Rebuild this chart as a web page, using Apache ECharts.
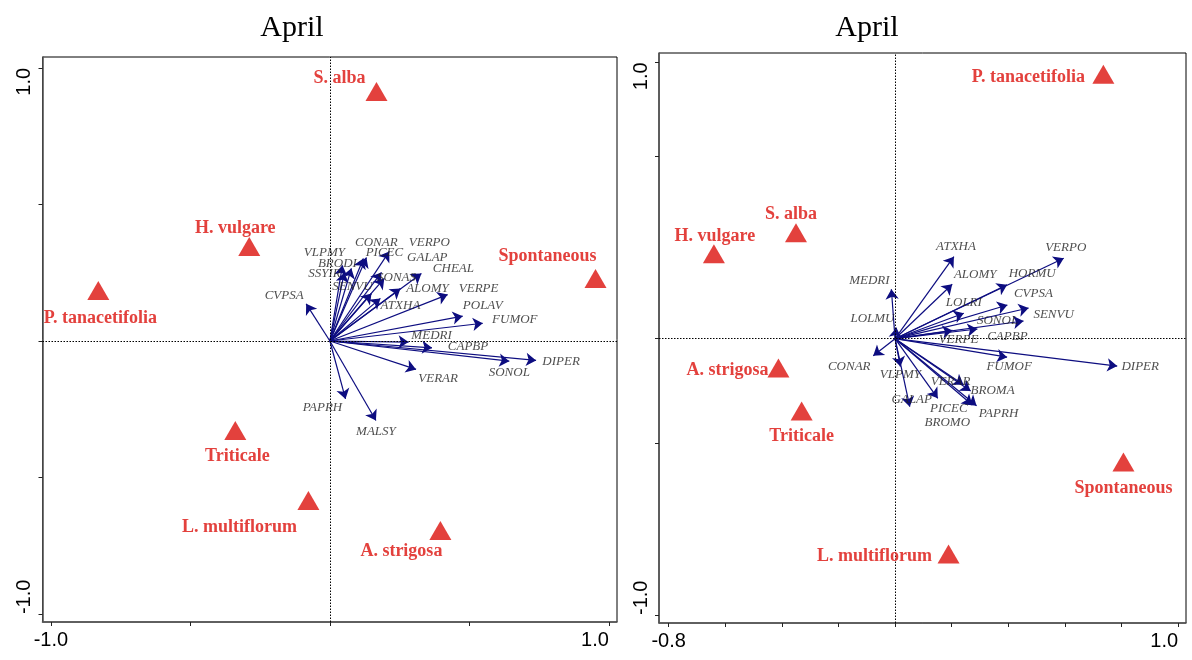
<!DOCTYPE html>
<html><head><meta charset="utf-8">
<script src="https://cdn.jsdelivr.net/npm/echarts@6/dist/echarts.min.js"></script>
<style>html,body{margin:0;padding:0;background:#fff}#c{width:1192px;height:660px}</style>
</head><body><div id="c"></div>
<script>
// ---------- DATA ----------
const panelTitles = ['April', 'April'];

// Left panel: treatments (triangles)
const leftTreatments = ['S. alba','H. vulgare','Spontaneous','P. tanacetifolia','Triticale','L. multiflorum','A. strigosa'];
const leftTreatX = [0.167,-0.289,0.952,-0.830,-0.339,-0.077,0.396];
const leftTreatY = [0.914,0.346,0.229,0.185,-0.328,-0.584,-0.694];
// Left panel: species (arrows)
const leftSpecies = ['CVPSA','PAPRH','MALSY','VERAR','SONOL','DIPER','CAPBP','MEDRI','FUMOF','POLAV','VERPE','ALOMY','ATXHA','SENVU','CHEAL','GALAP','SONAS','VERPO','PICEC','CONAR','BRODI','SSYIR','VLPMY'];
const leftSpecX = [-0.085,0.056,0.165,0.309,0.643,0.739,0.366,0.282,0.548,0.476,0.422,0.253,0.181,0.149,0.328,0.195,0.185,0.213,0.131,0.120,0.077,0.052,0.045];
const leftSpecY = [0.136,-0.212,-0.291,-0.104,-0.074,-0.071,-0.025,-0.004,0.065,0.091,0.170,0.192,0.156,0.174,0.247,0.229,0.251,0.328,0.306,0.302,0.266,0.251,0.277];
const leftXTicks = [-1.0,-0.5,0,0.5,1.0];
const leftYTicks = [-1.0,-0.5,0,0.5,1.0];

// Right panel: treatments (triangles)
const rightTreatments = ['P. tanacetifolia','S. alba','H. vulgare','A. strigosa','Triticale','Spontaneous','L. multiflorum'];
const rightTreatX = [0.736,-0.350,-0.640,-0.412,-0.330,0.807,0.189];
const rightTreatY = [0.957,0.383,0.307,-0.106,-0.262,-0.446,-0.779];
// Right panel: species (arrows)
const rightSpecies = ['ATXHA','VERPO','MEDRI','ALOMY','HORMU','LOLRI','CVPSA','SENVU','SONOL','LOLMU','VERPE','CAPBP','CONAR','FUMOF','DIPER','VLPMY','VERAR','BROMA','GALAP','PICEC','BROMO','PAPRH'];
const rightSpecX = [0.208,0.596,-0.013,0.202,0.396,0.243,0.397,0.472,0.454,0.005,0.203,0.291,-0.077,0.396,0.785,0.019,0.242,0.267,0.052,0.151,0.273,0.288];
const rightSpecY = [0.297,0.291,0.179,0.197,0.195,0.092,0.122,0.111,0.064,0.040,0.030,0.035,-0.062,-0.067,-0.099,-0.101,-0.167,-0.189,-0.246,-0.216,-0.240,-0.243];
const rightXTicks = [-0.8,-0.6,-0.4,-0.2,0,0.2,0.4,0.6,0.8,1.0];
const rightYTicks = [-1.0,-0.38,0,0.66,1.0];

// ---------- STYLE (label offsets in px) ----------
const leftTreatOffset = {'S. alba':[-37,-13],'H. vulgare':[-14,-18],'Spontaneous':[-48,-22],'P. tanacetifolia':[2,28],'Triticale':[2,26],'L. multiflorum':[-69,27],'A. strigosa':[-39,21]};
const rightTreatOffset = {'P. tanacetifolia':[-75,3],'S. alba':[-5,-19],'H. vulgare':[1,-18],'A. strigosa':[-51,2],'Triticale':[0,25],'Spontaneous':[0,26],'L. multiflorum':[-74,2]};
const leftSpecOffset = {CVPSA:[-22,-8],PAPRH:[-23,9],MALSY:[0,11],VERAR:[22,9],SONOL:[0,11],DIPER:[25,1],CAPBP:[36,-1],MEDRI:[23,-7],FUMOF:[32,-4],POLAV:[20,-11],VERPE:[31,-6],ALOMY:[27,0],ATXHA:[20,7],SENVU:[-19,-7],CHEAL:[32,-5],GALAP:[43,-21],SONAS:[15,5],VERPO:[40,-9],PICEC:[18,-5],CONAR:[13,-16],BRODI:[-14,-5],SSYIR:[-20,1],VLPMY:[-18,-13]};
const rightSpecOffset = {ATXHA:[2,-10],VERPO:[2,-11],MEDRI:[-22,-9],ALOMY:[23,-10],HORMU:[25,-11],LOLRI:[0,-11],CVPSA:[26,-11],SENVU:[25,7],SONOL:[-26,0],LOLMU:[-24,-9],VERPE:[6,9],CAPBP:[30,8],CONAR:[-24,11],FUMOF:[2,9],DIPER:[23,1],VLPMY:[0,8],VERAR:[-13,-3],BROMA:[22,0],GALAP:[2,-7],PICEC:[11,10],BROMO:[-25,18],PAPRH:[22,8]};

const RED = '#e3413d';
const NAVY = '#0d0d80';
const SERIF = '"Liberation Serif","Times New Roman",serif';
const SANS = '"Liberation Sans",Arial,sans-serif';

const chart = echarts.init(document.getElementById('c'), null, {renderer: 'canvas'});

const fmt = v => Number(v).toFixed(1);

function xAxes(grid, min, max, ticks, lowLabel, highLabel) {
  const base = {gridIndex: grid, type: 'value', min: min, max: max, position: 'bottom', offset: 0, splitLine: {show: false}};
  return [
    Object.assign({}, base, {
      axisLine: {show: true, onZero: false, lineStyle: {color: '#555', width: 1.6}},
      axisTick: {show: true, customValues: ticks, length: 4, lineStyle: {color: '#222', width: 1}},
      axisLabel: {show: true, customValues: [lowLabel], formatter: fmt, margin: 8, fontFamily: SANS, fontSize: 20, color: '#000', align: 'center'}
    }),
    Object.assign({}, base, {
      axisLine: {show: false}, axisTick: {show: false},
      axisLabel: {show: true, customValues: [highLabel], formatter: fmt, margin: 8, fontFamily: SANS, fontSize: 20, color: '#000', align: 'right'}
    })
  ];
}
function yAxes(grid, min, max, ticks, lowLabel, highLabel) {
  const base = {gridIndex: grid, type: 'value', min: min, max: max, position: 'left', offset: 0, splitLine: {show: false}};
  return [
    Object.assign({}, base, {
      axisLine: {show: true, onZero: false, lineStyle: {color: '#555', width: 1.6}},
      axisTick: {show: true, customValues: ticks, length: 4, lineStyle: {color: '#222', width: 1}},
      axisLabel: {show: true, customValues: [lowLabel], formatter: fmt, rotate: 90, margin: 8, fontFamily: SANS, fontSize: 20, color: '#000', align: 'left', verticalAlign: 'bottom'}
    }),
    Object.assign({}, base, {
      axisLine: {show: false}, axisTick: {show: false},
      axisLabel: {show: true, customValues: [highLabel], formatter: fmt, rotate: 90, margin: 8, fontFamily: SANS, fontSize: 20, color: '#000', align: 'right', verticalAlign: 'bottom'}
    })
  ];
}

function panelSeries(xi, yi, treatNames, tx, ty, tOff, specNames, sx, sy, sOff) {
  const arrows = {
    type: 'lines', coordinateSystem: 'cartesian2d', xAxisIndex: xi, yAxisIndex: yi,
    symbol: ['none', 'arrow'], symbolSize: 10, silent: true, z: 3,
    lineStyle: {color: NAVY, width: 1.2, opacity: 1},
    data: specNames.map((n, i) => ({name: n, coords: [[0, 0], [sx[i], sy[i]]]}))
  };
  const specLabels = {
    type: 'scatter', xAxisIndex: xi, yAxisIndex: yi, symbolSize: 0, silent: true, z: 4,
    data: specNames.map((n, i) => ({
      name: n, value: [sx[i], sy[i]],
      label: {show: true, position: 'inside', offset: sOff[n] || [0, 0], formatter: n,
        fontFamily: SERIF, fontStyle: 'italic', fontSize: 13, color: '#222', align: 'center', verticalAlign: 'middle'}
    })),
    markLine: {
      silent: true, symbol: 'none', label: {show: false}, animation: false,
      lineStyle: {type: [1.5, 1.5], color: '#000', width: 1},
      data: [{xAxis: 0}, {yAxis: 0}]
    }
  };
  const treat = {
    type: 'scatter', xAxisIndex: xi, yAxisIndex: yi, symbol: 'triangle', symbolSize: [22, 19], silent: true, z: 5,
    itemStyle: {color: RED, opacity: 1},
    data: treatNames.map((n, i) => ({
      name: n, value: [tx[i], ty[i]],
      label: {show: true, position: 'inside', offset: tOff[n] || [0, 0], formatter: n,
        fontFamily: SERIF, fontWeight: 'bold', fontSize: 18, color: RED, align: 'center', verticalAlign: 'middle'}
    }))
  };
  return [specLabels, arrows, treat];
}

const option = {
  animation: false,
  backgroundColor: '#fff',
  title: [
    {text: panelTitles[0], left: 287, top: 8, textAlign: 'center', textStyle: {fontFamily: SERIF, fontWeight: 'normal', fontSize: 30, color: '#000'}},
    {text: panelTitles[1], left: 862, top: 8, textAlign: 'center', textStyle: {fontFamily: SERIF, fontWeight: 'normal', fontSize: 30, color: '#000'}}
  ],
  grid: [
    {left: 42.5, width: 574.5, top: 57, height: 565, show: true, borderColor: '#000', borderWidth: 1, backgroundColor: 'transparent'},
    {left: 659, width: 527, top: 53, height: 570, show: true, borderColor: '#000', borderWidth: 1, backgroundColor: 'transparent'}
  ],
  xAxis: [].concat(
    xAxes(0, -1.030, 1.029, leftXTicks, -1.0, 1.0),
    xAxes(1, -0.834, 1.028, rightXTicks, -0.8, 1.0)
  ),
  yAxis: [].concat(
    yAxes(0, -1.029, 1.040, leftYTicks, -1.0, 1.0),
    yAxes(1, -1.029, 1.034, rightYTicks, -1.0, 1.0)
  ),
  series: [].concat(
    panelSeries(0, 0, leftTreatments, leftTreatX, leftTreatY, leftTreatOffset, leftSpecies, leftSpecX, leftSpecY, leftSpecOffset),
    panelSeries(2, 2, rightTreatments, rightTreatX, rightTreatY, rightTreatOffset, rightSpecies, rightSpecX, rightSpecY, rightSpecOffset)
  )
};
chart.setOption(option);
</script>
</body></html>
